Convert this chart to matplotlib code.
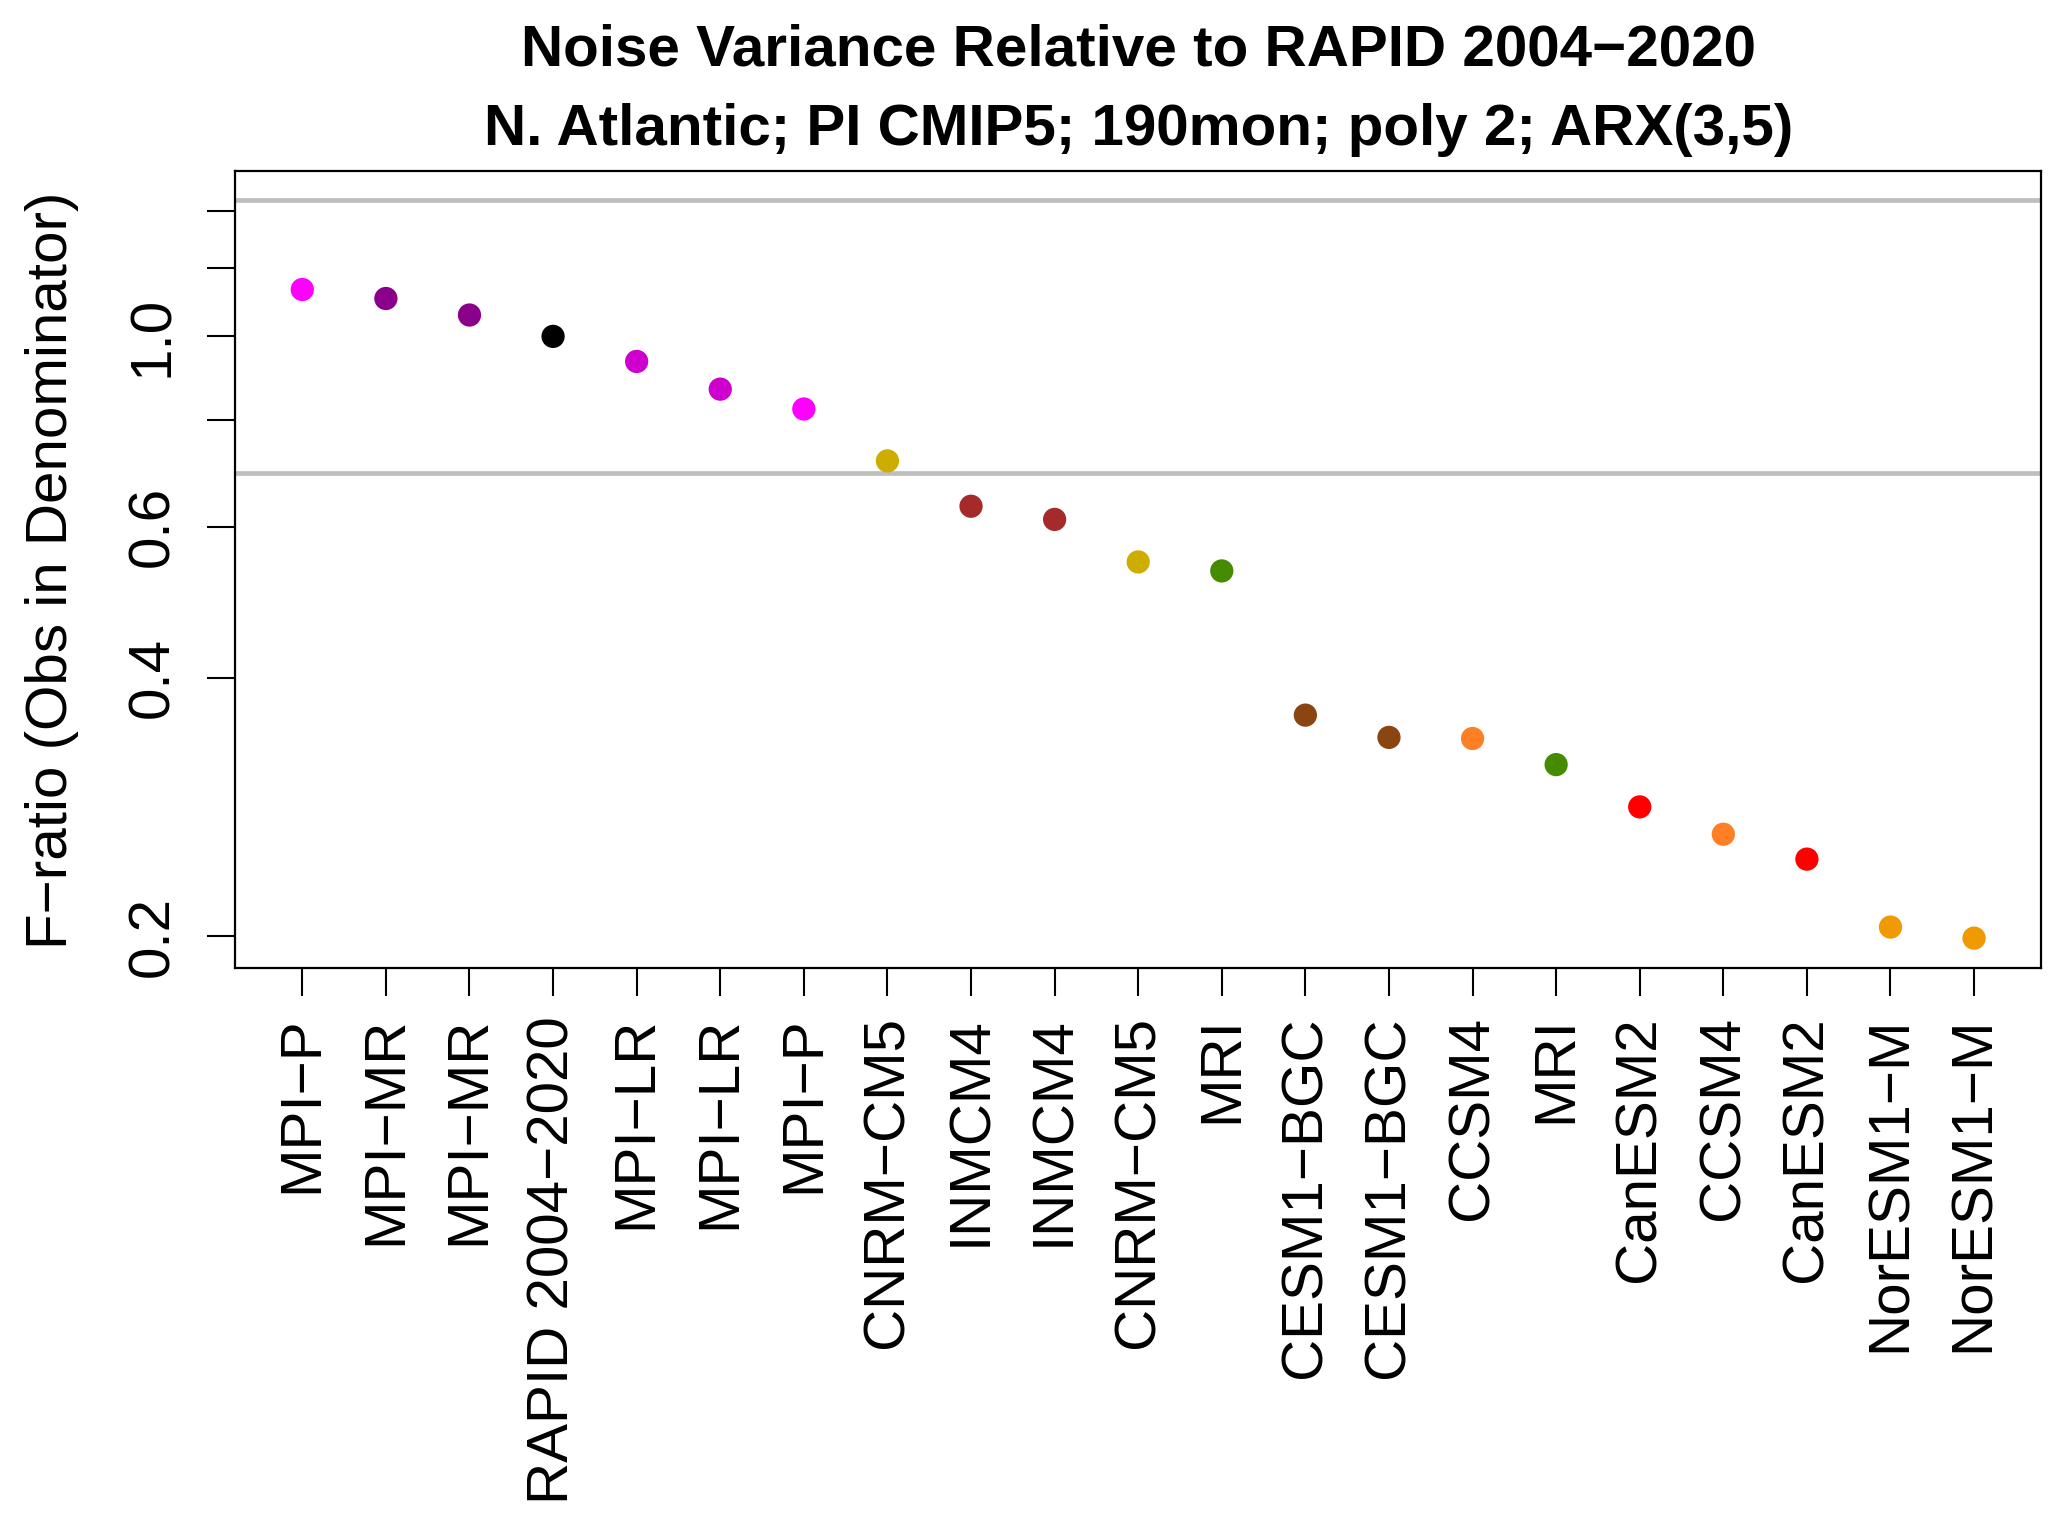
import numpy as np
import matplotlib
matplotlib.use("Agg")
import matplotlib.pyplot as plt

plt.rcParams["font.family"] = ["Liberation Sans", "DejaVu Sans"]

# ---------------------------------------------------------------------------
# data
# ---------------------------------------------------------------------------
models = ["MPI−P", "MPI−MR", "MPI−MR", "RAPID 2004−2020", "MPI−LR", "MPI−LR",
          "MPI−P", "CNRM−CM5", "INMCM4", "INMCM4", "CNRM−CM5", "MRI",
          "CESM1−BGC", "CESM1−BGC", "CCSM4", "MRI", "CanESM2", "CCSM4",
          "CanESM2", "NorESM1−M", "NorESM1−M"]
f_ratio = [1.134, 1.107, 1.059, 1.000, 0.935, 0.868, 0.823, 0.716, 0.634,
           0.612, 0.546, 0.533, 0.362, 0.341, 0.340, 0.317, 0.283, 0.263,
           0.246, 0.205, 0.199]
point_colors = ["#FF00FF", "#8B008B", "#8B008B", "#000000", "#CD00CD", "#CD00CD",
                "#FF00FF", "#CDAD00", "#A52A2A", "#A52A2A", "#CDAD00", "#458B00",
                "#8B4513", "#8B4513", "#FF7F24", "#458B00", "#FF0000", "#FF7F24",
                "#FF0000", "#EE9A00", "#EE9A00"]
f_bounds = [1.441, 0.694]          # significance bounds (gray lines)
ytick_vals = [0.2, 0.4, 0.6, 0.8, 1.0, 1.2, 1.4]
ytick_labels = ["0.2", "0.4", "0.6", "", "1.0", "", ""]

title1 = "Noise Variance Relative to RAPID 2004−2020"
title2 = "N. Atlantic; PI CMIP5; 190mon; poly 2; ARX(3,5)"

# ---------------------------------------------------------------------------
# plot
# ---------------------------------------------------------------------------
fig = plt.figure(figsize=(20.67, 15.35), dpi=100)
ax = fig.add_axes([0.1139, 0.3696, 0.8735, 0.5192])

x = np.arange(1, len(models) + 1)
for b in f_bounds:
    ax.axhline(b, color="#BEBEBE", lw=3.4, zorder=1)
ax.scatter(x, f_ratio, s=280, c=point_colors, edgecolors="none", zorder=3)

ax.set_yscale("log")
# R-style 4% padding in log space around data + bounds
allv = np.log(np.array(f_ratio + f_bounds))
pad = 0.04 * (allv.max() - allv.min())
ax.set_ylim(np.exp(allv.min() - pad), np.exp(allv.max() + pad))
ax.set_xlim(0.2, len(models) + 0.8)

ax.set_yticks(ytick_vals)
ax.set_yticklabels(ytick_labels, rotation=90, va="center")
ax.yaxis.set_minor_locator(matplotlib.ticker.NullLocator())
ax.set_xticks(x)
ax.set_xticklabels(models, rotation=90, va="top", ha="center")

ax.tick_params(axis="both", which="major", labelsize=42, length=20, width=1.5)
ax.tick_params(axis="y", pad=20)
ax.tick_params(axis="x", pad=15)
for sp in ax.spines.values():
    sp.set_linewidth(1.6)

fig.text(52 / 2067, 1 - 570 / 1535, "F−ratio (Obs in Denominator)", rotation=90,
         ha="center", va="center", fontsize=42)

xc = 0.1139 + 0.8735 / 2
fig.text(xc, 1 - 65 / 1535, title1, ha="center", va="baseline",
         fontsize=42, fontweight="bold")
fig.text(xc, 1 - 145 / 1535, title2, ha="center", va="baseline",
         fontsize=42, fontweight="bold")

fig.savefig("out.png", dpi=100, facecolor="white")
plt.close(fig)
